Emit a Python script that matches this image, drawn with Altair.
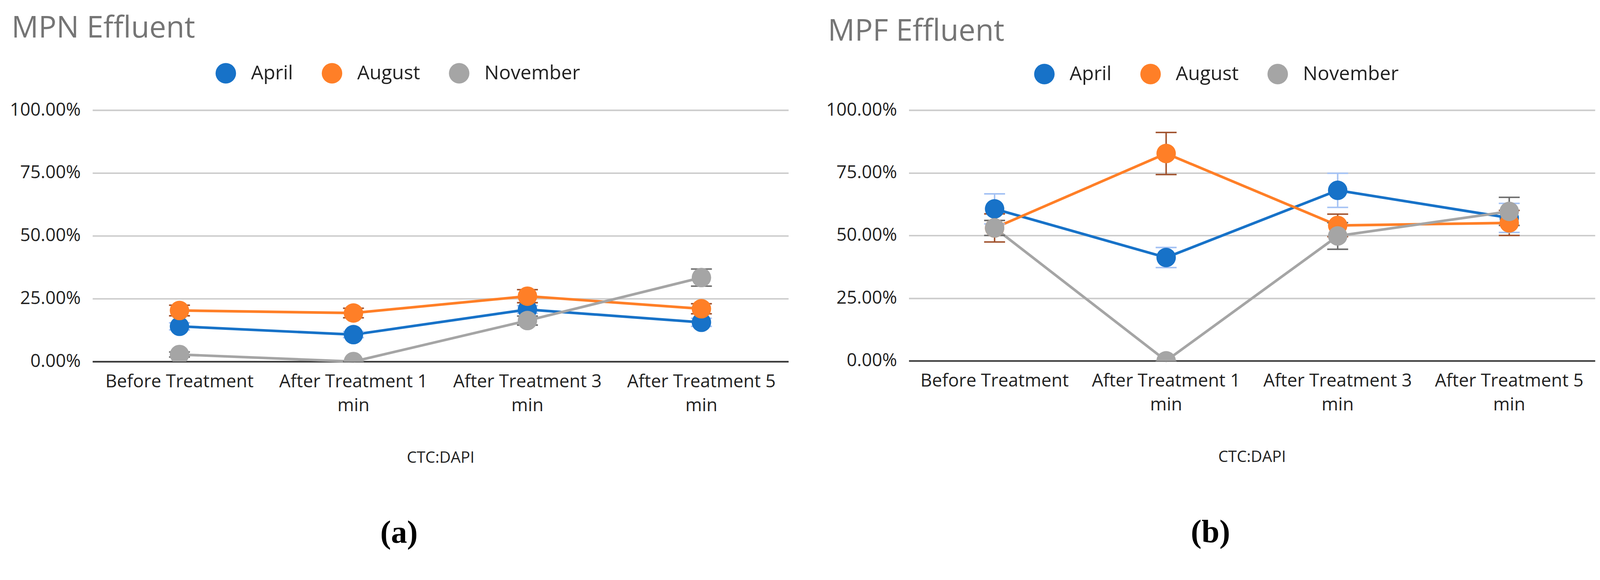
import altair as alt
import pandas as pd

stages = ["Before Treatment", "After Treatment 1 min", "After Treatment 3 min", "After Treatment 5 min"]
months = ["April", "August", "November"]

# MPN Effluent (percent)
mpn_april = [14.0, 10.7, 20.7, 15.6]
mpn_august = [20.3, 19.3, 26.0, 21.0]
mpn_november = [2.8, 0.0, 16.3, 33.4]
mpn_april_err = [1.4, 1.2, 1.5, 1.6]
mpn_august_err = [2.1, 1.9, 2.6, 2.0]
mpn_november_err = [1.0, 0.0, 1.8, 3.4]

# MPF Effluent (percent)
mpf_april = [60.6, 41.2, 68.0, 57.0]
mpf_august = [53.0, 82.7, 54.0, 55.0]
mpf_november = [53.0, 0.0, 49.8, 59.6]
mpf_april_err = [6.0, 4.0, 6.8, 5.8]
mpf_august_err = [5.6, 8.4, 4.5, 5.0]
mpf_november_err = [3.0, 0.0, 5.3, 5.6]

line_colors = ["#1772c8", "#ff7f27", "#a5a5a5"]
err_colors = ["#a4c2f4", "#a0522d", "#6d6d6d"]

FONT = "Open Sans"


def build(panel, series, errs):
    rows = []
    for m, vals, es in zip(months, series, errs):
        for s, v, e in zip(stages, vals, es):
            rows.append({"panel": panel, "stage": s, "month": m,
                         "value": v / 100.0, "lo": (v - e) / 100.0, "hi": (v + e) / 100.0})
    return pd.DataFrame(rows)


df_mpn = build("MPN", [mpn_april, mpn_august, mpn_november],
               [mpn_april_err, mpn_august_err, mpn_november_err])
df_mpf = build("MPF", [mpf_april, mpf_august, mpf_november],
               [mpf_april_err, mpf_august_err, mpf_november_err])

label_expr = "indexof(datum.label, ' min') > 0 ? [replace(datum.label, ' min', ''), 'min'] : datum.label"


def panel(df, title, letter, lx, ly, width, height, toff):
    x_axis = alt.Axis(title="CTC:DAPI", labelAngle=0, labelExpr=label_expr,
                      labelFont=FONT, labelFontSize=48, labelColor="#222222",
                      labelLineHeight=64, labelPadding=30, labelOverlap=False,
                      labelLimit=0, ticks=False, domain=True, domainColor="#333333",
                      domainWidth=4, grid=False, titleFont=FONT, titleFontSize=42,
                      titleFontWeight="normal", titleColor="#222222", titlePadding=95)
    y_axis = alt.Axis(format=".2%", values=[0, 0.25, 0.5, 0.75, 1.0], title=None,
                      labelFont=FONT, labelFontSize=48, labelColor="#222222",
                      labelPadding=32, labelLimit=0, ticks=False, domain=False,
                      gridColor="#cccccc", gridWidth=4)
    yscale = alt.Scale(domain=[0, 1], nice=False)
    x = alt.X("stage:N", sort=stages, axis=x_axis)

    def Y(field):
        return alt.Y(field, scale=yscale, axis=y_axis)

    cscale = alt.Scale(domain=months, range=line_colors)
    escale = alt.Scale(domain=months, range=err_colors)
    base = alt.Chart(df)
    lines = base.mark_line(strokeWidth=7).encode(
        x=x, y=Y("value:Q"),
        stroke=alt.Stroke("month:N", sort=months, scale=cscale, legend=None))
    bars = base.mark_bar(size=4, opacity=1).encode(
        x=x, y=Y("lo:Q"), y2="hi:Q",
        fill=alt.Fill("month:N", sort=months, scale=escale, legend=None))
    cap_lo = base.mark_tick(thickness=4, size=56, opacity=1).encode(
        x=x, y=Y("lo:Q"),
        fill=alt.Fill("month:N", sort=months, scale=escale, legend=None))
    cap_hi = base.mark_tick(thickness=4, size=56, opacity=1).encode(
        x=x, y=Y("hi:Q"),
        fill=alt.Fill("month:N", sort=months, scale=escale, legend=None))
    points = base.mark_circle(size=2700, opacity=1, clip=True).encode(
        x=x, y=Y("value:Q"),
        color=alt.Color("month:N", sort=months, scale=cscale,
                        legend=alt.Legend(title=None, orient="none", legendX=lx, legendY=ly,
                                          direction="horizontal", symbolType="circle",
                                          symbolSize=3000, symbolStrokeWidth=0,
                                          symbolOpacity=1, labelFont=FONT,
                                          labelFontSize=52, labelColor="#222222",
                                          labelLimit=0, labelOffset=40,
                                          columnPadding=76, padding=0)))
    layer = alt.layer(lines, bars, cap_lo, cap_hi, points).properties(
        width=width, height=height,
        title=alt.TitleParams(title, anchor="start", frame="bounds", font=FONT,
                              fontSize=80, fontWeight="normal", color="#757575",
                              offset=toff, dx=5))
    return alt.vconcat(layer).resolve_legend(color="independent").properties(
        title=alt.TitleParams(letter, orient="bottom", anchor="middle", frame="bounds",
                              font="Liberation Serif", fontSize=86, fontWeight="bold",
                              color="#000000", offset=139))


left = panel(df_mpn, "MPN Effluent", "(a)", 329, -126, 1861, 672, 51)
right = panel(df_mpf, "MPF Effluent", "(b)", 335, -124, 1835, 670, 45)

chart = alt.hconcat(left, right, spacing=100).resolve_legend(
    color="independent").properties(
    padding={"left": 17, "top": -4, "right": 5, "bottom": 5}
).configure_view(stroke=None)

chart.save("out.html", embed_options={"renderer": "svg", "actions": False})
